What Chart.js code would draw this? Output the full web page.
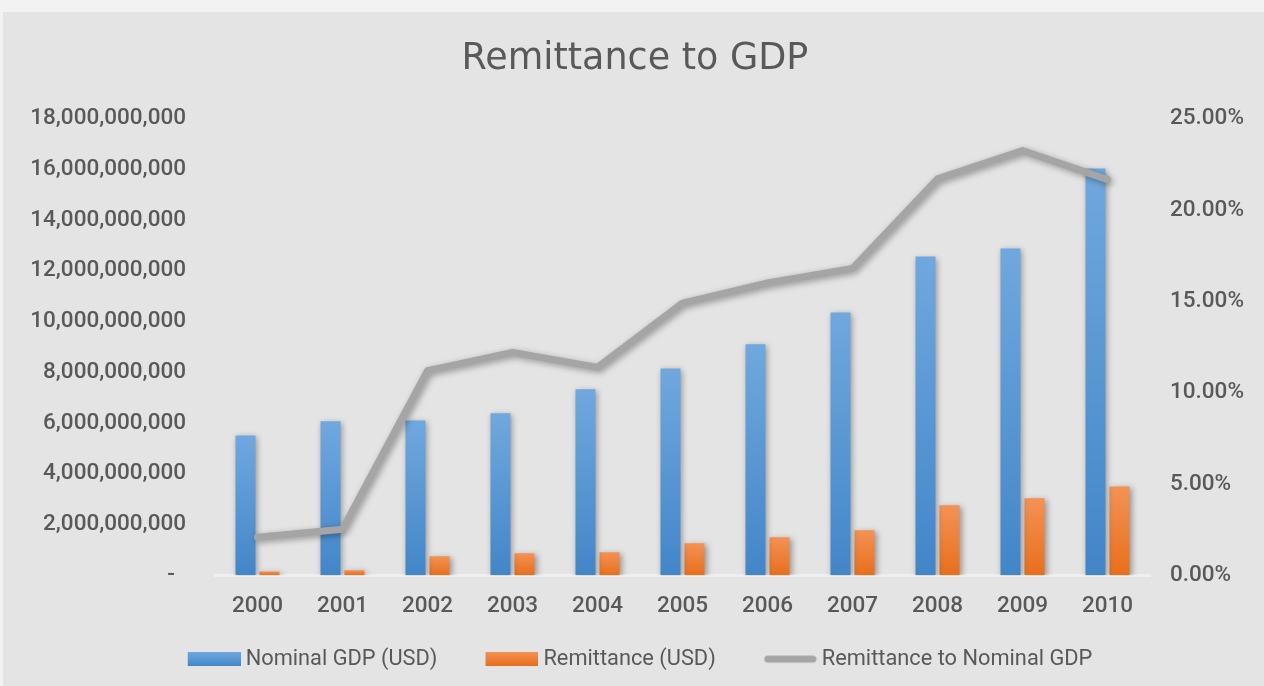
<!DOCTYPE html>
<html>
<head>
<meta charset="utf-8">
<script src="https://cdn.jsdelivr.net/npm/chart.js@4.4.1/dist/chart.umd.min.js"></script>
<style>
  html, body { margin: 0; padding: 0; background: #f2f2f2; }
  #wrap { position: absolute; left: 3px; top: 12px; width: 1261px; height: 674px; background: #e4e4e4; }
</style>
</head>
<body>
<div id="wrap"><canvas id="chart"></canvas></div>
<script>
// chart values
const years = ['2000', '2001', '2002', '2003', '2004', '2005', '2006', '2007', '2008', '2009', '2010'];
const nominalGdp = [5.51e9, 6.07e9, 6.10e9, 6.38e9, 7.33e9, 8.15e9, 9.10e9, 10.36e9, 12.56e9, 12.88e9, 16.03e9];
const remittance = [0.15e9, 0.20e9, 0.75e9, 0.87e9, 0.90e9, 1.26e9, 1.50e9, 1.77e9, 2.76e9, 3.03e9, 3.50e9];
const remitShare = [2.08, 2.52, 11.2, 12.2, 11.38, 14.9, 16.0, 16.8, 21.7, 23.25, 21.66];

const TEXT = '#595959';
const FONT = 'Roboto, "DejaVu Sans", sans-serif';
const LEGEND_FS = 21.8;

// vertical gradient spanning each bar from its top down to the baseline
function barGradient(top, bottom) {
    return function (ctx) {
        const chart = ctx.chart;
        if (!chart.chartArea || ctx.parsed === undefined) return bottom;
        const y = chart.scales.y;
        const y0 = y.getPixelForValue(ctx.parsed.y);
        const y1 = y.getPixelForValue(0);
        const g = chart.ctx.createLinearGradient(0, y0, 0, Math.max(y1, y0 + 1));
        g.addColorStop(0, top);
        g.addColorStop(1, bottom);
        return g;
    };
}

// legend markers: 53px swatch on the right of a wider transparent canvas,
// so the gap before each item is wider than the gap before its text
const SW_BOX = 85.1;
const SW_W = 97;
function legendSwatch(kind) {
    const c = document.createElement('canvas');
    c.width = SW_W; c.height = 14;
    const x = c.getContext('2d');
    const x0 = SW_W - 53;
    if (kind === 'line') {
        x.strokeStyle = '#a5a5a5';
        x.lineWidth = 7;
        x.lineCap = 'round';
        x.beginPath(); x.moveTo(x0 + 4, 7); x.lineTo(SW_W - 4, 7); x.stroke();
    } else {
        const g = x.createLinearGradient(0, 0, 0, 14);
        if (kind === 'blue') { g.addColorStop(0, '#70a8de'); g.addColorStop(1, '#4286c8'); }
        else { g.addColorStop(0, '#f39255'); g.addColorStop(1, '#e86f1b'); }
        x.fillStyle = g;
        x.fillRect(x0, 0, 53, 14);
    }
    return c;
}
const swatches = [legendSwatch('blue'), legendSwatch('orange'), legendSwatch('line')];

// drop shadow under bars and line
const shadowPlugin = {
    id: 'shadow',
    beforeDatasetDraw(chart) {
        const c = chart.ctx;
        c.save();
        c.shadowColor = 'rgba(0,0,0,0.35)';
        c.shadowBlur = 6;
        c.shadowOffsetX = 2;
        c.shadowOffsetY = 2;
    },
    afterDatasetDraw(chart) {
        chart.ctx.restore();
    }
};

// nudge legend row and title sideways to line up with the original
const blockShift = {
    id: 'blockShift',
    afterLayout(chart) {
        chart.legend.left -= 8;
        chart.legend.right -= 8;
        chart.titleBlock.left += 6;
        chart.titleBlock.right += 6;
    }
};

new Chart(document.getElementById('chart'), {
    data: {
        labels: years,
        datasets: [
            {
                type: 'line',
                label: 'Remittance to Nominal GDP',
                data: remitShare,
                yAxisID: 'y1',
                borderColor: '#a5a5a5',
                backgroundColor: '#a5a5a5',
                borderWidth: 7,
                borderCapStyle: 'round',
                borderJoinStyle: 'round',
                pointRadius: 0,
                tension: 0,
                order: 0
            },
            {
                type: 'bar',
                label: 'Nominal GDP (USD)',
                data: nominalGdp,
                yAxisID: 'y',
                backgroundColor: barGradient('#70a8de', '#4286c8'),
                categoryPercentage: 0.565,
                barPercentage: 0.833,
                order: 1
            },
            {
                type: 'bar',
                label: 'Remittance (USD)',
                data: remittance,
                yAxisID: 'y',
                backgroundColor: barGradient('#f39255', '#e86f1b'),
                categoryPercentage: 0.565,
                barPercentage: 0.833,
                order: 1
            }
        ]
    },
    options: {
        responsive: true,
        maintainAspectRatio: false,
        animation: false,
        layout: { padding: { left: 8, right: 17, top: 0, bottom: 6 } },
        plugins: {
            title: {
                display: true,
                text: 'Remittance to GDP',
                color: TEXT,
                font: { family: '"DejaVu Sans", sans-serif', size: 36.5, weight: 'normal' },
                padding: { top: 26.1, bottom: 36.7 }
            },
            legend: {
                position: 'bottom',
                labels: {
                    color: TEXT,
                    font: { family: FONT, size: LEGEND_FS },
                    usePointStyle: true,
                    pointStyleWidth: SW_BOX,
                    boxHeight: 14,
                    padding: 10,
                    generateLabels(chart) {
                        const order = [1, 2, 0];
                        return order.map((di, i) => ({
                            text: chart.data.datasets[di].label,
                            datasetIndex: di,
                            fontColor: TEXT,
                            pointStyle: swatches[i],
                            lineWidth: 0,
                            hidden: false
                        }));
                    }
                }
            },
            tooltip: { enabled: false }
        },
        scales: {
            x: {
                grid: { display: false, drawTicks: false },
                border: { color: '#efefef', width: 3 },
                ticks: { color: TEXT, font: { family: FONT, size: 22.5, weight: '500' }, padding: 18 }
            },
            y: {
                position: 'left',
                min: 0,
                max: 18e9,
                grid: { display: false, drawTicks: false },
                border: { display: false },
                afterFit(scale) { scale.width = 215 - 11; },
                ticks: {
                    stepSize: 2e9,
                    color: TEXT,
                    padding: 29,
                    font: { family: FONT, size: 22.5, weight: '500' },
                    // accounting style: zero shown as a dash set in from the right
                    callback: v => v === 0 ? '-  ' : v.toLocaleString('en-US')
                }
            },
            y1: {
                position: 'right',
                min: 0,
                max: 25,
                grid: { display: false, drawTicks: false },
                border: { display: false },
                afterFit(scale) { scale.width = 1247 - 1150; },
                ticks: {
                    stepSize: 5,
                    color: TEXT,
                    padding: 20,
                    font: { family: FONT, size: 22.5, weight: '500' },
                    callback: v => v.toFixed(2) + '%'
                }
            }
        }
    },
    plugins: [shadowPlugin, blockShift]
});
</script>
</body>
</html>
